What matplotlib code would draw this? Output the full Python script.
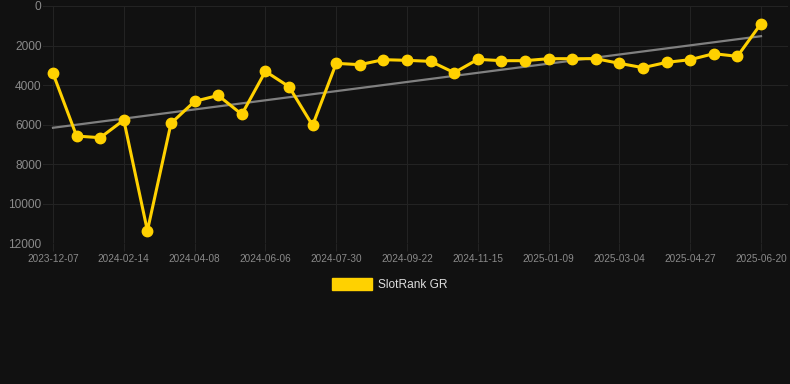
import matplotlib
matplotlib.use("Agg")
import matplotlib.pyplot as plt
import numpy as np

plt.rcParams['font.family'] = ['Liberation Sans', 'DejaVu Sans']

tick_labels = ["2023-12-07", "2024-02-14", "2024-04-08", "2024-06-06", "2024-07-30",
               "2024-09-22", "2024-11-15", "2025-01-09", "2025-03-04", "2025-04-27",
               "2025-06-20"]
rank = [3405, 6576, 6660, 5766, 11365, 5935, 4823, 4520, 5480, 3305,
        4080, 6037, 2900, 2967, 2714, 2748, 2799, 3372, 2697, 2765,
        2765, 2664, 2664, 2664, 2900, 3119, 2850, 2714, 2411, 2546,
        893]
series_name = "SlotRank GR"

bg = "#111111"
fig = plt.figure(figsize=(7.9, 3.84), dpi=100, facecolor=bg)
ax = fig.add_axes([43/790, 1-243.3/384, 745/790, (243.3-6)/384])
ax.set_facecolor(bg)

x = np.arange(len(rank))
coef = np.polyfit(x, rank, 1)
ax.plot(x, np.polyval(coef, x), color="#808080", lw=1.6, zorder=2)
ax.plot(x, rank, color="#FFD100", lw=2.2, marker="o", markersize=7.5, zorder=3)

ax.set_xlim(-10/23.6, 30 + 27/23.6)
ax.set_ylim(12000, 0)
ax.set_yticks(range(0, 12001, 2000))
ax.set_xticks(range(0, len(rank), 3))
ax.set_xticklabels(tick_labels)
ax.grid(True, color="#232323", lw=0.8)
for s in ax.spines.values():
    s.set_visible(False)
ax.tick_params(axis="y", length=0, pad=1, labelsize=8.6, colors="#8a8a8a")
ax.tick_params(axis="x", length=6, width=0.8, color="#232323", pad=2,
               labelsize=7.2, labelcolor="#8a8a8a")

# legend
fig.patches.append(plt.Rectangle((332/790, 1-290/384), 40/790, 12/384,
                                 transform=fig.transFigure, color="#FFD100"))
fig.text(378/790, 1-284.5/384, series_name, color="#dddddd", fontsize=8.6,
         va="center", ha="left")

fig.savefig("out.png", dpi=100, facecolor=bg)
